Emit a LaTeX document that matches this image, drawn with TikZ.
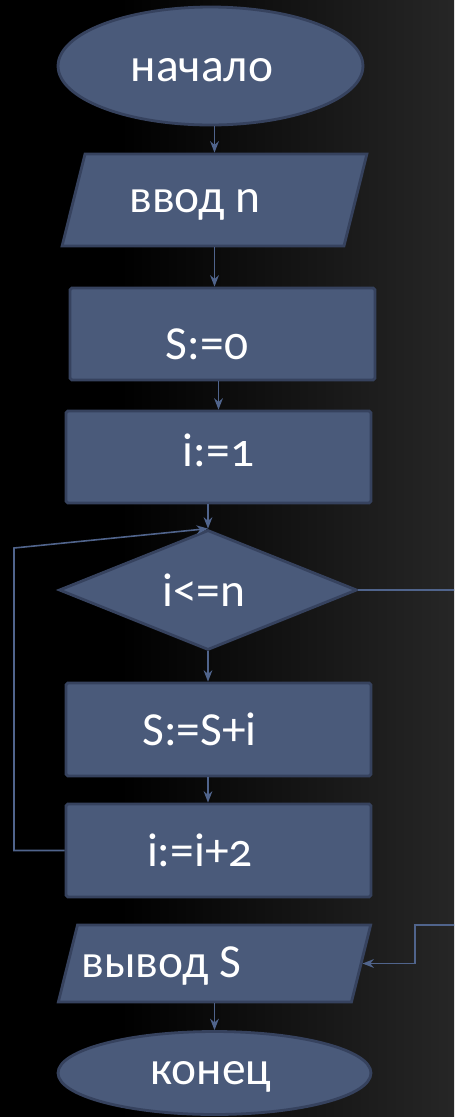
\documentclass[tikz,border=0pt]{standalone}
\usepackage{fontspec}
\setmainfont{Carlito}[Numbers=OldStyle]
\usetikzlibrary{shapes.geometric,arrows.meta}
\definecolor{blockFill}{RGB}{74,90,122}
\definecolor{blockLine}{RGB}{54,66,94}
\definecolor{flowLine}{RGB}{80,100,140}

\begin{document}
\begin{tikzpicture}[x=0.02cm, y=-0.02cm,
  block/.style={draw=blockLine, line width=1.6pt, fill=blockFill, inner sep=0pt},
  term/.style={block, ellipse},
  proc/.style={block, rectangle, rounded corners=1pt, minimum width=6.1cm, minimum height=1.84cm},
  io/.style={block, trapezium, trapezium left angle=76, trapezium right angle=104},
  decision/.style={block, diamond, minimum width=5.96cm, minimum height=2.4cm},
  txt/.style={text=white, inner sep=0pt, font=\fontsize{27}{32}\selectfont},
  flow/.style={draw=flowLine, line width=0.9pt},
  arr/.style={flow, -{Stealth[length=6.5pt, width=5pt]}}]
 	\useasboundingbox (0,0) rectangle (454,1117);
 	\clip (0,0) rectangle (454,1117);
 	\fill[black] (0,0) rectangle (454,1117);
 	\shade[left color=black, right color=white!15!black] (120,0) rectangle (454,1117);

 	\node[term, minimum width=6.1cm, minimum height=2.36cm, label={[txt, xshift=-0.17cm, yshift=-0.08cm]center:начало}] (start) at (210.5,66) {};
 	\node[io, inner xsep=2.59cm, inner ysep=0.92cm, label={[txt, xshift=-0.39cm, yshift=-0.1cm]center:ввод n}] (inp) at (214.5,200) {};
 	\node[proc, label={[txt, xshift=-0.31cm, yshift=-0.2cm]center:S:=0}] (s0) at (222.5,334) {};
 	\node[proc, label={[txt, yshift=0.14cm]center:i:=1}] (i1) at (218.5,457) {};
 	\node[decision, label={[txt, xshift=-0.08cm]center:i<=n}] (check) at (208,590) {};
 	\node[proc, minimum height=1.86cm, label={[txt, xshift=-0.38cm]center:S:=S+i}] (sum) at (218.5,729.5) {};
 	\node[proc, minimum height=1.86cm, label={[txt, xshift=-0.37cm]center:i:=i+2}] (inc) at (218.5,850.5) {};
 	\node[io, inner xsep=2.74cm, inner ysep=0.77cm, label={[txt, xshift=-1.06cm, yshift=-0.05cm]center:вывод S}] (outp) at (214.5,963.5) {};
 	\node[term, minimum width=6.26cm, minimum height=1.66cm, label={[txt, xshift=-0.07cm, yshift=-0.08cm]center:конец}] (stop) at (214.5,1073) {};

 	\coordinate (l1) at (14,548);
 	\coordinate (r1) at (462,590);
 	\coordinate (r3) at (415,925);

 	\draw[arr] (start.south -| inp.north) -- (inp.north);
 	\draw[arr] (inp.south) -- (inp.south |- s0.north);
 	\draw[arr] (s0.south -| i1) -- (i1.north);
 	\draw[arr] (i1.south -| check) -- (check.north);
 	\draw[arr] (check.south) -- (sum.north -| check.south);
 	\draw[arr] (sum.south -| check) -- (inc.north -| check);
 	\draw[arr] (inc.west) -- (inc.west -| l1) -- (l1) -- (check.north);
 	\draw[arr] (check.east) -- (r1) |- (r3) |- (outp.east);
 	\draw[arr] (outp.south) -- (stop.north);
\end{tikzpicture}
\end{document}
